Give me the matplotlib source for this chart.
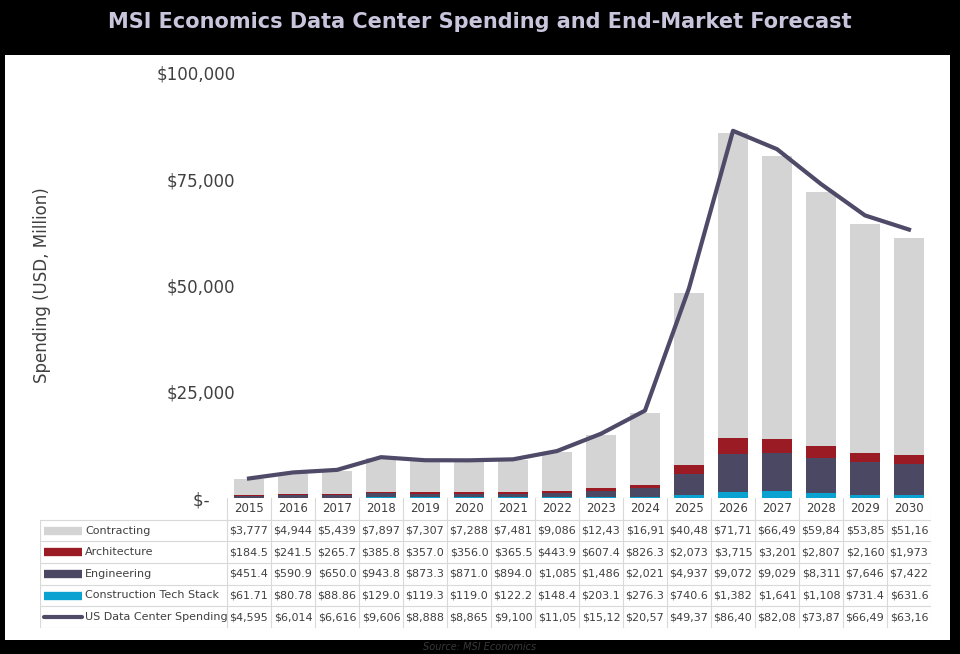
import matplotlib.pyplot as plt

years = [str(y) for y in range(2015, 2031)]
contracting = [3777, 4944, 5439, 7897, 7307, 7288, 7481, 9086, 12430, 16910,
               40480, 71710, 66490, 59840, 53850, 51160]
architecture = [184.5, 241.5, 265.7, 385.8, 357.0, 356.0, 365.5, 443.9, 607.4,
                826.3, 2073, 3715, 3201, 2807, 2160, 1973]
engineering = [451.4, 590.9, 650.0, 943.8, 873.3, 871.0, 894.0, 1085, 1486, 2021,
               4937, 9072, 9029, 8311, 7646, 7422]
tech = [61.71, 80.78, 88.86, 129.0, 119.3, 119.0, 122.2, 148.4, 203.1, 276.3,
        740.6, 1382, 1641, 1108, 731.4, 631.6]
total = [4595, 6014, 6616, 9606, 8888, 8865, 9100, 11050, 15120, 20570,
         49370, 86400, 82080, 73870, 66490, 63160]

# table text as shown (Excel cuts wide numbers)
contracting_lbl = ["$3,777", "$4,944", "$5,439", "$7,897", "$7,307", "$7,288", "$7,481", "$9,086",
                   "$12,43", "$16,91", "$40,48", "$71,71", "$66,49", "$59,84", "$53,85", "$51,16"]
architecture_lbl = ["$184.5", "$241.5", "$265.7", "$385.8", "$357.0", "$356.0", "$365.5", "$443.9",
                    "$607.4", "$826.3", "$2,073", "$3,715", "$3,201", "$2,807", "$2,160", "$1,973"]
engineering_lbl = ["$451.4", "$590.9", "$650.0", "$943.8", "$873.3", "$871.0", "$894.0", "$1,085",
                   "$1,486", "$2,021", "$4,937", "$9,072", "$9,029", "$8,311", "$7,646", "$7,422"]
tech_lbl = ["$61.71", "$80.78", "$88.86", "$129.0", "$119.3", "$119.0", "$122.2", "$148.4",
            "$203.1", "$276.3", "$740.6", "$1,382", "$1,641", "$1,108", "$731.4", "$631.6"]
total_lbl = ["$4,595", "$6,014", "$6,616", "$9,606", "$8,888", "$8,865", "$9,100", "$11,05",
             "$15,12", "$20,57", "$49,37", "$86,40", "$82,08", "$73,87", "$66,49", "$63,16"]

c_con, c_arc, c_eng, c_tech, c_line = "#d4d4d4", "#9b1b24", "#4a4862", "#0aa3d1", "#4e4a68"
W, H = 960, 654

fig = plt.figure(figsize=(9.6, 6.54), dpi=100, facecolor="black")
# white panel behind everything
bg = fig.add_axes([5 / W, 1 - 640 / H, 945 / W, 585 / H], zorder=-10)
bg.set_facecolor("white")
bg.set_xticks([])
bg.set_yticks([])
for s in bg.spines.values():
    s.set_visible(False)

fig.text(0.5, 1 - 22 / H, "MSI Economics Data Center Spending and End-Market Forecast",
         ha="center", va="center", color="#c8c5dc", fontsize=15, fontweight="bold")
fig.text(0.5, 1 - 647 / H, "Source: MSI Economics", ha="center", va="center",
         color="#3a3a3a", fontsize=7, style="italic")

x = list(range(len(years)))
ax = fig.add_axes([227 / W, 1 - 498 / H, 704 / W, 425 / H])
ax.set_facecolor("none")
bw = 0.66
ax.bar(x, tech, bw, color=c_tech)
b1 = [t for t in tech]
ax.bar(x, engineering, bw, bottom=b1, color=c_eng)
b2 = [a + b for a, b in zip(b1, engineering)]
ax.bar(x, architecture, bw, bottom=b2, color=c_arc)
b3 = [a + b for a, b in zip(b2, architecture)]
ax.bar(x, contracting, bw, bottom=b3, color=c_con)
ax.plot(x, total, color=c_line, lw=3, zorder=5)
ax.set_xlim(-0.5, 15.5)
ax.set_ylim(0, 100000)
ax.set_yticks([0, 25000, 50000, 75000, 100000])
ax.set_yticklabels(["$-     ", "$25,000", "$50,000", "$75,000", "$100,000"],
                   fontsize=12, color="#404040")
ax.tick_params(axis="y", length=0, pad=-6)
ax.set_xticks([])
for s in ax.spines.values():
    s.set_visible(False)
fig.text(42 / W, 1 - 285 / H, "Spending (USD, Million)", rotation=90, ha="center",
         va="center", fontsize=12, color="#404040")

# data table under the chart
tab = fig.add_axes([40 / W, 1 - 628 / H, 891 / W, 130 / H])
lab_w = 187 / 44
tab.set_xlim(-0.5 - lab_w, 15.5)
tab.set_ylim(5, -1)
tab.axis("off")
gc = "#d9d9d9"
for i, yr in enumerate(years):
    tab.text(i, -0.5, yr, ha="center", va="center", fontsize=8.5, color="#404040")
    tab.plot([i + 0.5, i + 0.5], [-1, 0], color=gc, lw=0.8)
tab.plot([-0.5, -0.5], [-1, 0], color=gc, lw=0.8)
rows = [("Contracting", contracting_lbl, c_con, 6),
        ("Architecture", architecture_lbl, c_arc, 6),
        ("Engineering", engineering_lbl, c_eng, 6),
        ("Construction Tech Stack", tech_lbl, c_tech, 6),
        ("US Data Center Spending", total_lbl, c_line, 3)]
x0 = -0.5 - lab_w
for r, (name, vals, col, lw) in enumerate(rows):
    yc = r + 0.5
    tab.plot([x0 + 0.1, x0 + 0.95], [yc, yc], color=col, lw=lw,
             solid_capstyle="butt" if lw > 3 else "round")
    tab.text(x0 + 1.02, yc, name, va="center", fontsize=8, color="#404040")
    for i, v in enumerate(vals):
        tab.text(i, yc, v, ha="center", va="center", fontsize=8, color="#404040")
for r in range(6):
    tab.plot([x0, 15.5], [r, r], color=gc, lw=0.8)
for xv in [x0, -0.5] + [i + 0.5 for i in x]:
    tab.plot([xv, xv], [0, 5], color=gc, lw=0.8)

fig.savefig("out.png", dpi=100, facecolor="black")
